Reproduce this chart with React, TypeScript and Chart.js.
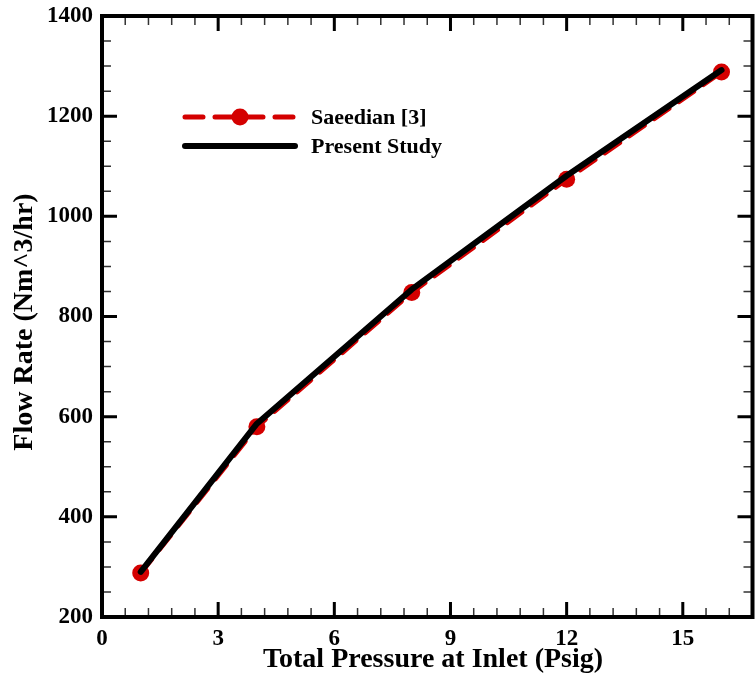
import React, { useEffect, useRef } from "react";
import { Chart, registerables } from "chart.js";

Chart.register(...registerables);

const pressures = [1, 4, 8, 12, 16];
const saeedian = [288, 580, 848, 1074, 1288];
const presentStudy = [290, 586, 854, 1081, 1292];
const xTicks = [0, 3, 6, 9, 12, 15];
const yTicks = [200, 400, 600, 800, 1000, 1200, 1400];
const seriesNames = ["Saeedian [3]", "Present Study"];
const xTitle = "Total Pressure at Inlet (Psig)";
const yTitle = "Flow Rate (Nm^3/hr)";

const RED = "#d40000";
const FONT = "'Liberation Serif', 'Times New Roman', serif";
const CANVAS_W = 761;

const framePlugin = {
  id: "frameTicks",
  afterDatasetsDraw(chart: any) {
    const { ctx, chartArea: a, scales } = chart;
    const xs = scales.x;
    const ys = scales.y;
    ctx.save();
    ctx.lineCap = "butt";
    // minor ticks
    ctx.lineWidth = 1.5;
    ctx.strokeStyle = "#333";
    for (let k = 1; k * 0.6 < 16.8 - 1e-6; k++) {
      const v = k * 0.6;
      if (Math.abs(v / 3 - Math.round(v / 3)) < 1e-6) continue;
      const px = xs.getPixelForValue(v);
      ctx.beginPath();
      ctx.moveTo(px, a.bottom);
      ctx.lineTo(px, a.bottom - 9);
      ctx.moveTo(px, a.top);
      ctx.lineTo(px, a.top + 9);
      ctx.stroke();
    }
    for (let v = 250; v < 1400; v += 50) {
      if (v % 200 === 0) continue;
      const py = ys.getPixelForValue(v);
      ctx.beginPath();
      ctx.moveTo(a.left, py);
      ctx.lineTo(a.left + 9, py);
      ctx.moveTo(a.right, py);
      ctx.lineTo(a.right - 9, py);
      ctx.stroke();
    }
    // major ticks
    ctx.strokeStyle = "#000";
    ctx.lineWidth = 3;
    xTicks.forEach((v) => {
      const px = xs.getPixelForValue(v);
      ctx.beginPath();
      ctx.moveTo(px, a.bottom);
      ctx.lineTo(px, a.bottom - 15);
      ctx.moveTo(px, a.top);
      ctx.lineTo(px, a.top + 15);
      ctx.stroke();
    });
    yTicks.forEach((v) => {
      const py = ys.getPixelForValue(v);
      ctx.beginPath();
      ctx.moveTo(a.left, py);
      ctx.lineTo(a.left + 15, py);
      ctx.moveTo(a.right, py);
      ctx.lineTo(a.right - 15, py);
      ctx.stroke();
    });
    // frame
    ctx.lineWidth = 4;
    ctx.lineJoin = "miter";
    ctx.strokeRect(a.left, a.top, a.right - a.left, a.bottom - a.top);

    // axis titles
    ctx.fillStyle = "#000";
    ctx.font = `bold 28px ${FONT}`;
    ctx.textAlign = "center";
    ctx.textBaseline = "middle";
    ctx.fillText(xTitle, 433, 660);
    ctx.save();
    ctx.translate(25, 322);
    ctx.rotate(-Math.PI / 2);
    ctx.fillText(yTitle, 0, 0);
    ctx.restore();

    // legend
    const lx0 = 185;
    const lx1 = 295;
    const ly1 = 117;
    const ly2 = 146;
    ctx.lineCap = "round";
    ctx.strokeStyle = RED;
    ctx.lineWidth = 5;
    ctx.setLineDash([18, 12]);
    ctx.beginPath();
    ctx.moveTo(lx0, ly1);
    ctx.lineTo(lx1, ly1);
    ctx.stroke();
    ctx.setLineDash([]);
    ctx.fillStyle = RED;
    ctx.beginPath();
    ctx.arc((lx0 + lx1) / 2, ly1, 8.5, 0, Math.PI * 2);
    ctx.fill();
    ctx.strokeStyle = "#000";
    ctx.lineWidth = 6;
    ctx.beginPath();
    ctx.moveTo(lx0, ly2);
    ctx.lineTo(lx1, ly2);
    ctx.stroke();
    ctx.fillStyle = "#000";
    ctx.font = `bold 22px ${FONT}`;
    ctx.textAlign = "left";
    ctx.textBaseline = "middle";
    ctx.fillText(seriesNames[0], 311, ly1 + 1);
    ctx.fillText(seriesNames[1], 311, ly2 + 1);
    ctx.restore();
  },
};

export default function App() {
  const ref = useRef<HTMLCanvasElement | null>(null);
  useEffect(() => {
    document.body.style.margin = "0";
    const canvas = ref.current;
    if (!canvas) return;
    const chart = new Chart(canvas, {
      type: "line",
      data: {
        datasets: [
          {
            label: seriesNames[0],
            data: pressures.map((x, i) => ({ x, y: saeedian[i] })),
            borderColor: RED,
            backgroundColor: RED,
            borderWidth: 5,
            borderDash: [18, 12],
            borderCapStyle: "round",
            pointRadius: 8.5,
            pointBackgroundColor: RED,
            pointBorderWidth: 0,
            tension: 0,
            order: 1,
          },
          {
            label: seriesNames[1],
            data: pressures.map((x, i) => ({ x, y: presentStudy[i] })),
            borderColor: "#000",
            backgroundColor: "#000",
            borderWidth: 6,
            borderCapStyle: "round",
            borderJoinStyle: "round",
            pointRadius: 0,
            tension: 0,
            order: 0,
          },
        ],
      },
      options: {
        animation: false,
        responsive: false,
        maintainAspectRatio: false,
        layout: { padding: { top: 16, right: 0, left: 0, bottom: 0 } },
        plugins: { legend: { display: false }, tooltip: { enabled: false } },
        scales: {
          x: {
            type: "linear",
            min: 0,
            max: 16.8,
            afterBuildTicks: (s: any) => {
              s.ticks = xTicks.map((v) => ({ value: v }));
            },
            afterFit: (s: any) => {
              s.height = 60;
              s.paddingLeft = 0;
              s.paddingRight = 0;
            },
            grid: { display: false, drawTicks: false },
            border: { display: false },
            ticks: {
              color: "#000",
              padding: 8,
              maxRotation: 0,
              autoSkip: false,
              callback: (v: any) => String(v),
              font: { family: FONT, size: 23, weight: "bold" },
            },
            title: { display: false },
          },
          y: {
            type: "linear",
            min: 200,
            max: 1400,
            afterBuildTicks: (s: any) => {
              s.ticks = yTicks.map((v) => ({ value: v }));
            },
            afterFit: (s: any) => {
              s.width = 102;
              s.paddingTop = 0;
              s.paddingBottom = 0;
            },
            grid: { display: false, drawTicks: false },
            border: { display: false },
            ticks: {
              color: "#000",
              padding: 9,
              autoSkip: false,
              callback: (v: any) => String(v),
              font: { family: FONT, size: 23, weight: "bold" },
            },
            title: { display: false },
          },
        },
      },
      plugins: [framePlugin],
    } as any);
    return () => chart.destroy();
  }, []);
  return (
    <div style={{ width: 756, height: 677, position: "relative", overflow: "hidden" }}>
      <canvas ref={ref} width={CANVAS_W} height={677} style={{ display: "block", width: CANVAS_W, height: 677 }} />
    </div>
  );
}
